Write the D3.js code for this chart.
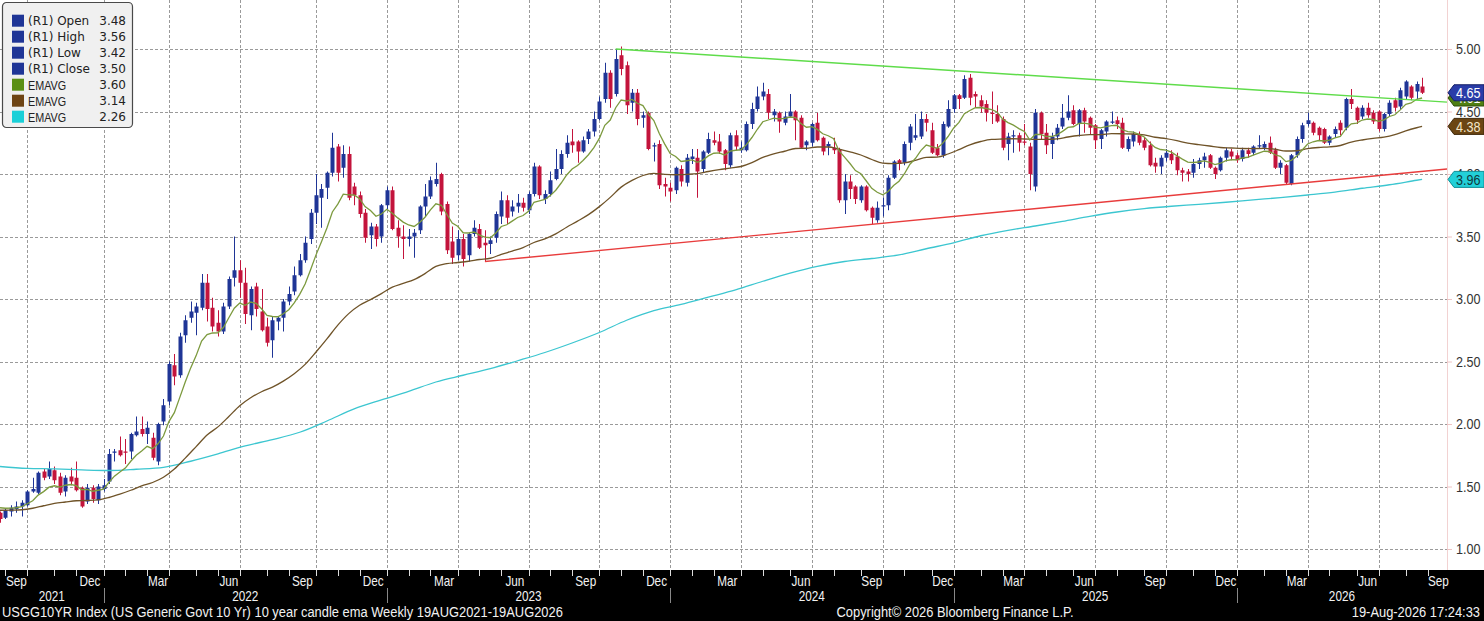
<!DOCTYPE html>
<html>
<head>
<meta charset="utf-8">
<script src="https://cdn.jsdelivr.net/npm/d3@7/dist/d3.min.js"></script>
<style>
  html, body { margin: 0; padding: 0; background: #fff; }
  svg { display: block; }
</style>
</head>
<body>
<svg id="chart" width="1484" height="621"></svg>
<script>
// weekly bars, the first one is the week ending Fri 20 Aug 2021
const firstWeek = new Date(2021, 7, 20);
const lastDate = new Date(2026, 8, 22); // right edge of the plot

const opens = [
  1.29,1.25,1.30,1.32,1.34,1.35,1.46,1.45,1.62,1.58, 1.63,1.58,1.46,1.58,1.57,1.49,1.38,1.49,1.39,1.48,
  1.54,1.77,1.79,1.78,1.78,1.91,1.96,1.92,1.89,1.70, 2.02,2.18,2.47,2.39,2.71,2.85,2.89,2.93,3.13,2.93,
  2.81,2.74,2.94,3.17,3.23,3.13,2.87,3.10,2.90,2.78, 2.67,2.82,2.85,2.98,3.06,3.19,3.31,3.48,3.69,3.81,
  3.89,4.01,4.22,4.05,4.16,3.90,3.83,3.69,3.51,3.58, 3.50,3.75,3.87,3.57,3.50,3.48,3.50,3.55,3.74,3.82,
  3.92,4.00,3.76,3.46,3.35,3.48,3.35,3.52,3.56,3.45, 3.44,3.49,3.66,3.79,3.70,3.74,3.77,3.71,3.84,4.06,
  3.80,3.84,3.96,4.04,4.16,4.26,4.26,4.18,4.28,4.34, 4.44,4.60,4.81,4.64,4.95,4.87,4.57,4.65,4.45,4.49,
  4.22,4.24,3.92,3.89,3.87,4.04,3.93,4.12,4.13,4.04, 4.17,4.27,4.26,4.19,4.07,4.31,4.19,4.19,4.40,4.52,
  4.62,4.64,4.47,4.49,4.41,4.46,4.50,4.45,4.23,4.25, 4.41,4.29,4.22,4.21,4.20,3.79,3.94,3.90,3.79,3.90,
  3.73,3.63,3.74,3.75,3.97,4.11,4.09,4.25,4.29,4.30, 4.44,4.35,4.21,4.15,4.38,4.52,4.63,4.61,4.77,4.64,
  4.59,4.56,4.49,4.48,4.44,4.24,4.30,4.31,4.26,4.22, 3.90,4.49,4.33,4.24,4.30,4.38,4.45,4.51,4.40,4.51,
  4.45,4.39,4.28,4.34,4.41,4.43,4.41,4.20,4.26,4.32, 4.27,4.23,4.09,4.06,4.13,4.16,4.14,4.03,4.02,4.01,
  4.08,4.11,4.15,4.05,4.03,4.13,4.18,4.15,4.12,4.19, 4.17,4.22,4.21,4.25,4.19,4.05,4.07,3.92,4.15,4.28,
  4.40,4.41,4.37,4.36,4.25,4.32,4.41,4.37,4.60,4.53, 4.46,4.53,4.49,4.50,4.36,4.48,4.59,4.54,4.62,4.70,
  4.66,4.70
];
const highs = [
  1.30,1.32,1.35,1.38,1.39,1.47,1.57,1.62,1.64,1.70, 1.66,1.61,1.59,1.65,1.70,1.50,1.52,1.51,1.52,1.56,
  1.80,1.80,1.90,1.88,1.93,2.06,2.06,2.02,1.93,2.01, 2.20,2.50,2.56,2.73,2.87,2.98,2.97,3.20,3.20,3.01,
  2.91,2.97,3.18,3.50,3.31,3.25,3.10,3.13,3.08,2.85, 2.86,2.86,3.00,3.10,3.26,3.36,3.50,3.72,4.00,3.92,
  4.02,4.33,4.24,4.23,4.22,3.93,3.86,3.72,3.61,3.60, 3.76,3.90,3.90,3.63,3.59,3.56,3.56,3.75,3.92,3.98,
  4.09,4.01,3.78,3.58,3.55,3.52,3.53,3.63,3.60,3.55, 3.50,3.70,3.86,3.83,3.79,3.84,3.81,3.86,4.09,4.07,
  3.87,4.02,4.20,4.19,4.31,4.36,4.27,4.30,4.36,4.50, 4.62,4.89,4.83,5.00,5.02,4.90,4.68,4.68,4.50,4.50,
  4.25,4.27,3.97,3.93,4.06,4.07,4.16,4.20,4.20,4.19, 4.33,4.34,4.32,4.20,4.33,4.35,4.26,4.42,4.57,4.70,
  4.73,4.68,4.52,4.50,4.50,4.64,4.51,4.47,4.27,4.41, 4.49,4.30,4.26,4.29,4.21,4.00,3.99,3.91,3.91,3.91,
  3.74,3.78,3.81,3.99,4.11,4.12,4.26,4.40,4.48,4.50, 4.48,4.41,4.24,4.42,4.59,4.64,4.64,4.79,4.80,4.66,
  4.63,4.59,4.66,4.55,4.46,4.33,4.35,4.33,4.40,4.25, 4.52,4.50,4.40,4.33,4.40,4.56,4.63,4.55,4.52,4.53,
  4.46,4.40,4.36,4.43,4.50,4.46,4.45,4.30,4.34,4.34, 4.29,4.26,4.13,4.15,4.20,4.19,4.17,4.05,4.04,4.12,
  4.13,4.17,4.16,4.06,4.14,4.21,4.20,4.17,4.21,4.21, 4.23,4.31,4.26,4.30,4.21,4.11,4.08,4.16,4.30,4.41,
  4.49,4.42,4.38,4.37,4.31,4.38,4.43,4.61,4.68,4.54, 4.55,4.57,4.51,4.51,4.49,4.59,4.61,4.69,4.75,4.71,
  4.74,4.77
];
const lows = [
  1.21,1.24,1.26,1.29,1.26,1.34,1.45,1.44,1.55,1.56, 1.52,1.43,1.42,1.51,1.46,1.33,1.36,1.37,1.36,1.46,
  1.52,1.70,1.74,1.68,1.72,1.90,1.90,1.84,1.71,1.67, 1.99,2.15,2.31,2.37,2.65,2.81,2.71,2.91,2.82,2.74,
  2.70,2.72,2.92,3.10,3.01,2.80,2.75,2.86,2.74,2.62, 2.53,2.75,2.74,2.95,3.03,3.18,3.29,3.44,3.60,3.57,
  3.80,3.98,3.94,3.97,3.79,3.75,3.65,3.45,3.40,3.42, 3.45,3.72,3.55,3.41,3.32,3.42,3.33,3.52,3.66,3.80,
  3.90,3.67,3.36,3.28,3.31,3.26,3.30,3.50,3.40,3.30, 3.36,3.45,3.60,3.60,3.66,3.69,3.70,3.68,3.82,3.80,
  3.76,3.82,3.95,4.00,4.13,4.17,4.09,4.17,4.24,4.30, 4.43,4.57,4.53,4.62,4.79,4.48,4.50,4.39,4.37,4.19,
  4.10,3.88,3.82,3.78,3.84,3.90,3.90,4.08,3.81,4.01, 4.16,4.23,4.16,4.03,4.05,4.19,4.17,4.18,4.36,4.50,
  4.59,4.44,4.42,4.33,4.39,4.45,4.27,4.20,4.19,4.22, 4.26,4.15,4.15,4.16,3.77,3.68,3.80,3.76,3.77,3.70,
  3.60,3.61,3.66,3.71,3.96,4.03,4.07,4.19,4.27,4.28, 4.34,4.16,4.14,4.13,4.37,4.49,4.52,4.60,4.55,4.53,
  4.49,4.42,4.40,4.41,4.19,4.11,4.17,4.18,4.23,3.87, 3.86,4.28,4.16,4.12,4.27,4.36,4.43,4.39,4.30,4.33,
  4.32,4.20,4.20,4.30,4.40,4.36,4.20,4.18,4.22,4.23, 4.19,4.06,4.01,4.00,4.10,4.08,3.99,3.94,3.94,3.97,
  4.04,4.05,4.04,3.96,4.02,4.10,4.11,4.09,4.10,4.13, 4.15,4.20,4.19,4.16,4.04,4.00,3.92,3.91,4.13,4.25,
  4.38,4.31,4.27,4.24,4.23,4.29,4.31,4.35,4.52,4.40, 4.44,4.45,4.40,4.34,4.34,4.46,4.50,4.52,4.60,4.59,
  4.60,4.64
];
const closes = [
  1.24,1.31,1.33,1.34,1.37,1.46,1.48,1.61,1.57,1.64, 1.55,1.45,1.57,1.54,1.47,1.34,1.49,1.40,1.50,1.51,
  1.76,1.78,1.75,1.77,1.92,1.94,1.92,1.97,1.73,2.00, 2.15,2.48,2.38,2.70,2.83,2.90,2.94,3.13,2.92,2.78,
  2.74,2.94,3.16,3.23,3.13,2.88,3.08,2.92,2.75,2.65, 2.83,2.85,2.98,3.04,3.19,3.31,3.45,3.69,3.83,3.88,
  4.01,4.21,4.01,4.16,3.81,3.83,3.68,3.49,3.58,3.48, 3.75,3.87,3.56,3.50,3.48,3.50,3.53,3.74,3.82,3.95,
  3.96,3.70,3.39,3.33,3.48,3.32,3.52,3.57,3.41,3.43, 3.47,3.68,3.79,3.65,3.74,3.77,3.73,3.84,4.06,3.83,
  3.84,3.95,4.04,4.16,4.25,4.23,4.18,4.27,4.34,4.44, 4.58,4.81,4.60,4.92,4.84,4.55,4.65,4.44,4.47,4.20,
  4.23,3.91,3.90,3.86,4.05,3.94,4.13,4.14,4.02,4.18, 4.28,4.25,4.18,4.08,4.31,4.22,4.21,4.40,4.52,4.62,
  4.66,4.49,4.50,4.42,4.46,4.50,4.43,4.21,4.26,4.40, 4.27,4.18,4.24,4.19,3.79,3.94,3.88,3.80,3.90,3.71,
  3.65,3.73,3.75,3.97,4.10,4.08,4.24,4.38,4.31,4.44, 4.41,4.17,4.15,4.40,4.52,4.63,4.60,4.76,4.61,4.62,
  4.54,4.49,4.48,4.42,4.21,4.30,4.31,4.25,4.25,4.00, 4.49,4.32,4.23,4.30,4.37,4.45,4.50,4.40,4.51,4.42,
  4.37,4.27,4.35,4.42,4.42,4.40,4.21,4.28,4.32,4.25, 4.21,4.07,4.06,4.13,4.17,4.11,4.03,4.01,4.00,4.08,
  4.11,4.14,4.05,4.00,4.13,4.19,4.14,4.11,4.19,4.16, 4.22,4.23,4.24,4.17,4.05,4.09,3.93,4.15,4.28,4.39,
  4.43,4.33,4.31,4.25,4.30,4.36,4.35,4.60,4.56,4.43, 4.53,4.47,4.42,4.36,4.48,4.57,4.53,4.67,4.74,4.61,
  4.72,4.65
];

// short EMAVG, one value per week
const emaFast = [
  1.330,1.326,1.327,1.330,1.338,1.362,1.386,1.431,1.459,1.495, 1.506,1.495,1.510,1.516,1.507,1.474,1.477,1.462,1.470,1.478,
  1.534,1.583,1.616,1.647,1.702,1.750,1.784,1.821,1.803,1.842, 1.904,2.019,2.091,2.213,2.336,2.449,2.547,2.664,2.715,2.728,
  2.730,2.772,2.850,2.926,2.967,2.950,2.976,2.965,2.922,2.868, 2.860,2.858,2.882,2.914,2.969,3.037,3.120,3.234,3.353,3.458,
  3.568,3.696,3.759,3.839,3.833,3.832,3.802,3.740,3.708,3.662, 3.680,3.718,3.686,3.649,3.615,3.592,3.580,3.612,3.654,3.713,
  3.762,3.750,3.678,3.608,3.582,3.530,3.528,3.536,3.511,3.495, 3.490,3.528,3.580,3.594,3.623,3.652,3.668,3.702,3.774,3.785,
  3.796,3.827,3.870,3.928,3.992,4.040,4.068,4.108,4.154,4.211, 4.285,4.390,4.432,4.530,4.592,4.584,4.597,4.566,4.547,4.478,
  4.428,4.324,4.239,4.163,4.140,4.100,4.106,4.113,4.094,4.111, 4.145,4.166,4.169,4.151,4.183,4.190,4.194,4.235,4.292,4.358,
  4.418,4.432,4.446,4.441,4.445,4.456,4.451,4.403,4.374,4.379, 4.357,4.322,4.306,4.283,4.184,4.135,4.084,4.027,4.002,3.944,
  3.885,3.854,3.833,3.860,3.908,3.942,4.002,4.078,4.124,4.187, 4.232,4.220,4.206,4.245,4.300,4.366,4.413,4.482,4.508,4.530,
  4.532,4.524,4.515,4.496,4.439,4.411,4.391,4.363,4.340,4.272, 4.316,4.317,4.300,4.300,4.314,4.341,4.373,4.378,4.404,4.407,
  4.400,4.374,4.369,4.379,4.387,4.390,4.354,4.339,4.335,4.318, 4.296,4.251,4.213,4.196,4.191,4.175,4.146,4.119,4.095,4.092,
  4.096,4.105,4.094,4.075,4.086,4.107,4.114,4.113,4.128,4.134, 4.151,4.167,4.182,4.180,4.154,4.141,4.099,4.109,4.143,4.192,
  4.240,4.258,4.268,4.264,4.271,4.289,4.301,4.361,4.401,4.407, 4.432,4.440,4.436,4.421,4.433,4.460,4.474,4.513,4.558,4.568,
  4.598,4.608
];

// medium EMAVG, read every second week (plus the last bar)
const emaMidWeeks = d3.range(0, 261, 2).concat([261]);
const emaMid = [
  1.310,1.311,1.314,1.326,1.346,1.365,1.376,1.386,1.388,1.393, 1.412,1.439,1.470,1.505,1.532,1.574,1.640,1.727,1.819,1.912,
  1.977,2.060,2.146,2.210,2.258,2.295,2.343,2.402,2.477,2.576, 2.681,2.791,2.883,2.950,2.995,3.043,3.095,3.125,3.155,3.203,
  3.261,3.283,3.292,3.302,3.316,3.326,3.357,3.383,3.411,3.452, 3.481,3.521,3.574,3.623,3.675,3.739,3.813,3.895,3.949,3.988,
  4.005,3.997,3.994,3.997,4.003,4.020,4.035,4.047,4.060,4.091, 4.133,4.161,4.182,4.204,4.206,4.216,4.216,4.199,4.177,4.152,
  4.116,4.087,4.083,4.089,4.109,4.133,4.135,4.160,4.195,4.233, 4.260,4.277,4.280,4.282,4.280,4.277,4.277,4.281,4.296,4.308,
  4.315,4.315,4.323,4.322,4.320,4.313,4.294,4.283,4.267,4.247, 4.235,4.224,4.212,4.208,4.204,4.203,4.205,4.198,4.184,4.186,
  4.203,4.212,4.217,4.228,4.255,4.272,4.285,4.295,4.315,4.345, 4.370,4.381
];

// long EMAVG, read every fifth week (plus the last bar)
const emaSlowWeeks = d3.range(0, 261, 5).concat([261]);
const emaSlow = [
  1.660,1.645,1.641,1.633,1.628,1.638,1.653,1.702,1.761,1.825,
  1.875,1.934,2.024,2.121,2.193,2.261,2.336,2.390,2.443,2.506,
  2.572,2.648,2.732,2.830,2.907,2.957,3.015,3.073,3.142,3.207,
  3.261,3.300,3.324,3.353,3.402,3.449,3.506,3.549,3.584,3.621,
  3.661,3.696,3.723,3.742,3.757,3.774,3.793,3.811,3.832,3.855,
  3.886,3.914,3.950,3.957
];

// hand drawn trend lines: [start week, value] to the right edge
const resistanceStart = [113, 5.00];
const resistanceEnd = 4.575;
const supportStart = [89, 3.30];
const supportEnd = 4.04;

const yTickValues = [1.00, 1.50, 2.00, 2.50, 3.00, 3.50, 4.00, 4.50, 5.00];

const legendLabels = ['(R1) Open', '(R1) High', '(R1) Low', '(R1) Close', 'EMAVG', 'EMAVG', 'EMAVG'];
const legendValues = ['3.48', '3.56', '3.42', '3.50', '3.60', '3.14', '2.26'];

const footerLeft = 'USGG10YR Index (US Generic Govt 10 Yr) 10 year candle ema Weekly 19AUG2021-19AUG2026';
const footerMid = 'Copyright\u00a9 2026 Bloomberg Finance L.P.';
const footerRight = '19-Aug-2026 17:24:33';

const upColor = '#1f3596';
const downColor = '#c3143c';
const fastColor = '#7c9a3e';
const midColor = '#6f5328';
const slowColor = '#3cc6d0';
// no Arial Narrow here: squeeze Liberation Sans instead
const sans = '"Liberation Sans", Arial, sans-serif';
const wide = '"DejaVu Sans", Verdana, sans-serif';

const svg = d3.select('#chart');
const width = +svg.attr('width');
const height = +svg.attr('height');
const plotRight = 1447;
const plotBottom = 570;

const weekDate = i => d3.timeDay.offset(firstWeek, 7 * i);
const narrowAt = (px, py, k) => `translate(${px},${py}) scale(${k},1)`;

const x = d3.scaleTime()
  .domain([firstWeek, lastDate])
  .range([0, plotRight]);

const y = d3.scaleLinear()
  .domain([1, 5])
  .range([549, 49]);

// month ends = last weekly bar of each month
const fridays = d3.timeFriday.range(new Date(2021, 6, 1), new Date(2026, 9, 1));
const monthEnds = d3.groups(fridays, d => d3.timeMonth(d))
  .map(([month, days]) => ({ month, date: days[days.length - 1] }));
const inPlot = px => px >= 0 && px <= plotRight;

const plot = svg.append('g');

// grid
plot.append('g')
  .selectAll('line')
  .data(yTickValues)
  .join('line')
    .attr('x1', 0)
    .attr('x2', plotRight)
    .attr('y1', d => Math.round(y(d)) + 0.5)
    .attr('y2', d => Math.round(y(d)) + 0.5)
    .attr('stroke', '#9a9a9a')
    .attr('stroke-dasharray', '3,2');

const quarterEnds = monthEnds.filter(m => m.month.getMonth() % 3 === 2 && inPlot(x(m.date)));
plot.append('g')
  .selectAll('line')
  .data(quarterEnds)
  .join('line')
    .attr('x1', d => Math.round(x(d.date)) + 0.5)
    .attr('x2', d => Math.round(x(d.date)) + 0.5)
    .attr('y1', 0)
    .attr('y2', plotBottom)
    .attr('stroke', '#9a9a9a')
    .attr('stroke-dasharray', '3,2');

// candles
const candles = plot.append('g').selectAll('g')
  .data(closes.map((c, i) => ({ date: weekDate(i), o: opens[i], h: highs[i], l: lows[i], c })))
  .join('g')
    .attr('fill', d => (d.c >= d.o ? upColor : downColor))
    .attr('stroke', d => (d.c >= d.o ? upColor : downColor));

candles.append('line')
  .attr('x1', d => Math.round(x(d.date)) + 0.5)
  .attr('x2', d => Math.round(x(d.date)) + 0.5)
  .attr('y1', d => y(d.h))
  .attr('y2', d => y(d.l))
  .attr('stroke-width', 1);

candles.append('rect')
  .attr('x', d => Math.round(x(d.date)) - 1.5)
  .attr('width', 4)
  .attr('y', d => y(Math.max(d.o, d.c)))
  .attr('height', d => Math.max(1, Math.abs(y(d.o) - y(d.c))))
  .attr('stroke-width', 0);

// moving averages
const emaLine = d3.line()
  .x(d => x(d[0]))
  .y(d => y(d[1]));

plot.append('path')
  .datum(emaSlow.map((v, k) => [weekDate(emaSlowWeeks[k]), v]))
  .attr('d', emaLine.curve(d3.curveMonotoneX))
  .attr('fill', 'none')
  .attr('stroke', slowColor)
  .attr('stroke-width', 1.3);

plot.append('path')
  .datum(emaMid.map((v, k) => [weekDate(emaMidWeeks[k]), v]))
  .attr('d', emaLine.curve(d3.curveMonotoneX))
  .attr('fill', 'none')
  .attr('stroke', midColor)
  .attr('stroke-width', 1.3);

plot.append('path')
  .datum(emaFast.map((v, i) => [weekDate(i), v]))
  .attr('d', emaLine.curve(d3.curveLinear))
  .attr('fill', 'none')
  .attr('stroke', fastColor)
  .attr('stroke-width', 1.3);

// trend lines
plot.append('line')
  .attr('x1', x(weekDate(resistanceStart[0])))
  .attr('y1', y(resistanceStart[1]))
  .attr('x2', x(lastDate))
  .attr('y2', y(resistanceEnd))
  .attr('stroke', '#5fdc4a')
  .attr('stroke-width', 1.5);

plot.append('line')
  .attr('x1', x(weekDate(supportStart[0])))
  .attr('y1', y(supportStart[1]))
  .attr('x2', x(lastDate))
  .attr('y2', y(supportEnd))
  .attr('stroke', '#e83c3c')
  .attr('stroke-width', 1.4);

// right axis
svg.append('line')
  .attr('x1', plotRight + 0.5)
  .attr('x2', plotRight + 0.5)
  .attr('y1', 0)
  .attr('y2', plotBottom)
  .attr('stroke', '#f2d2d2');

const axisSqueeze = 0.84;
svg.append('g')
  .attr('transform', `translate(${plotRight},0)`)
  .call(d3.axisRight(y).tickValues(yTickValues).tickFormat(d3.format('.2f')).tickSize(5).tickPadding(4))
  .call(g => g.select('.domain').remove())
  .call(g => g.selectAll('line').attr('stroke', '#efc4c4'))
  .call(g => g.selectAll('text')
    .attr('x', 9 / axisSqueeze)
    .attr('transform', `scale(${axisSqueeze},1)`)
    .attr('font-family', sans)
    .attr('font-size', 15)
    .attr('fill', '#333'));

// last value tags
const tags = [
  { value: emaSlow[emaSlow.length - 1], fill: '#22d0d8', stroke: '#0f8f96', text: '#10393d' },
  { value: emaMid[emaMid.length - 1], fill: '#6b4513', stroke: '#3f280a', text: '#f5e6c8' },
  { value: emaFast[emaFast.length - 1], fill: '#4f7f12', stroke: '#2f4d0a', text: '#ffffff' },
  { value: closes[closes.length - 1], fill: '#2a3ca8', stroke: '#141f66', text: '#ffffff' },
];
const tag = svg.append('g').selectAll('g')
  .data(tags)
  .join('g')
    .attr('transform', d => `translate(0,${y(d.value)})`);

tag.append('path')
  .attr('d', `M${plotRight + 1},0 L${plotRight + 7},-8 L${width},-8 L${width},8 L${plotRight + 7},8 Z`)
  .attr('fill', d => d.fill)
  .attr('stroke', d => d.stroke)
  .attr('stroke-width', 1);

tag.append('text')
  .attr('transform', narrowAt(1456, 0, axisSqueeze))
  .attr('dy', '0.36em')
  .attr('font-family', sans)
  .attr('font-size', 15)
  .attr('fill', d => d.text)
  .text(d => d3.format('.2f')(d.value));

// bottom band with the time axis and footer
const band = svg.append('g');
band.append('rect')
  .attr('x', 0)
  .attr('y', plotBottom)
  .attr('width', width)
  .attr('height', height - plotBottom)
  .attr('fill', '#000');

band.append('g')
  .selectAll('line')
  .data(monthEnds.filter(m => inPlot(x(m.date))))
  .join('line')
    .attr('x1', d => Math.round(x(d.date)) + 0.5)
    .attr('x2', d => Math.round(x(d.date)) + 0.5)
    .attr('y1', plotBottom)
    .attr('y2', plotBottom + 6)
    .attr('stroke', '#ddd');

const labelSqueeze = 0.84;
const monthLabels = monthEnds
  .map((m, k) => ({ ...m, prev: k > 0 ? monthEnds[k - 1].date : null }))
  .filter(m => m.prev && m.month.getMonth() % 3 === 2)
  .map(m => ({ label: d3.timeFormat('%b')(m.month), cx: (x(m.prev) + x(m.date)) / 2 }))
  .filter(m => inPlot(m.cx));

band.append('g')
  .selectAll('text')
  .data(monthLabels)
  .join('text')
    .attr('transform', d => narrowAt(d.cx, 586, labelSqueeze))
    .attr('text-anchor', 'middle')
    .attr('font-family', sans)
    .attr('font-size', 14)
    .attr('fill', '#f2f2f2')
    .text(d => d.label);

const decEnds = monthEnds.filter(m => m.month.getMonth() === 11).map(m => x(m.date));
band.append('g')
  .selectAll('line')
  .data(decEnds.filter(inPlot))
  .join('line')
    .attr('x1', d => Math.round(d) + 0.5)
    .attr('x2', d => Math.round(d) + 0.5)
    .attr('y1', 588)
    .attr('y2', 603)
    .attr('stroke', '#888');

const years = d3.range(2021, 2027).map((yr, k) => {
  const left = k === 0 ? 0 : decEnds[k - 1];
  const right = Math.min(plotRight, decEnds[k] === undefined ? plotRight : decEnds[k]);
  return { yr, cx: (left + right) / 2 };
});

band.append('g')
  .selectAll('text')
  .data(years)
  .join('text')
    .attr('transform', d => narrowAt(d.cx, 601, labelSqueeze))
    .attr('text-anchor', 'middle')
    .attr('font-family', sans)
    .attr('font-size', 14)
    .attr('fill', '#f2f2f2')
    .text(d => d.yr);

const footerSqueeze = 0.86;
const footer = band.append('g')
  .attr('font-family', sans)
  .attr('font-size', 15)
  .attr('fill', '#f2f2f2');
footer.append('text').attr('transform', narrowAt(2, 617, footerSqueeze)).text(footerLeft);
footer.append('text').attr('transform', narrowAt(955, 617, footerSqueeze)).attr('text-anchor', 'middle').text(footerMid);
footer.append('text').attr('transform', narrowAt(1480, 617, footerSqueeze)).attr('text-anchor', 'end').text(footerRight);

// legend
const legendColors = [upColor, upColor, upColor, upColor, '#5a8f14', '#6e4414', '#1ad0d8'];
const legend = svg.append('g');
legend.append('rect')
  .attr('x', 2.5)
  .attr('y', 2.5)
  .attr('width', 130)
  .attr('height', 125)
  .attr('rx', 4)
  .attr('fill', '#f0f0f0')
  .attr('stroke', '#4a4a4a')
  .attr('stroke-width', 1.2);

const rows = legend.selectAll('g.row')
  .data(legendLabels.map((label, k) => ({ label, value: legendValues[k], color: legendColors[k], k })))
  .join('g')
    .attr('class', 'row')
    .attr('transform', d => `translate(0,${20.7 + 16 * d.k})`);

rows.append('rect')
  .attr('x', 12)
  .attr('y', -6)
  .attr('width', 12)
  .attr('height', 12)
  .attr('fill', d => d.color);

rows.filter(d => d.label.startsWith('('))
  .append('text')
    .attr('x', 28)
    .attr('dy', '0.36em')
    .attr('font-family', wide)
    .attr('font-size', 12)
    .attr('fill', '#222')
    .text(d => d.label);

rows.filter(d => !d.label.startsWith('('))
  .append('text')
    .attr('transform', narrowAt(28, 0, 0.8))
    .attr('dy', '0.36em')
    .attr('font-family', sans)
    .attr('font-size', 13.5)
    .attr('fill', '#222')
    .text(d => d.label);

rows.append('text')
  .attr('x', 126)
  .attr('dy', '0.36em')
  .attr('text-anchor', 'end')
  .attr('font-family', wide)
  .attr('font-size', 12)
  .attr('fill', '#222')
  .text(d => d.value);
</script>
</body>
</html>
